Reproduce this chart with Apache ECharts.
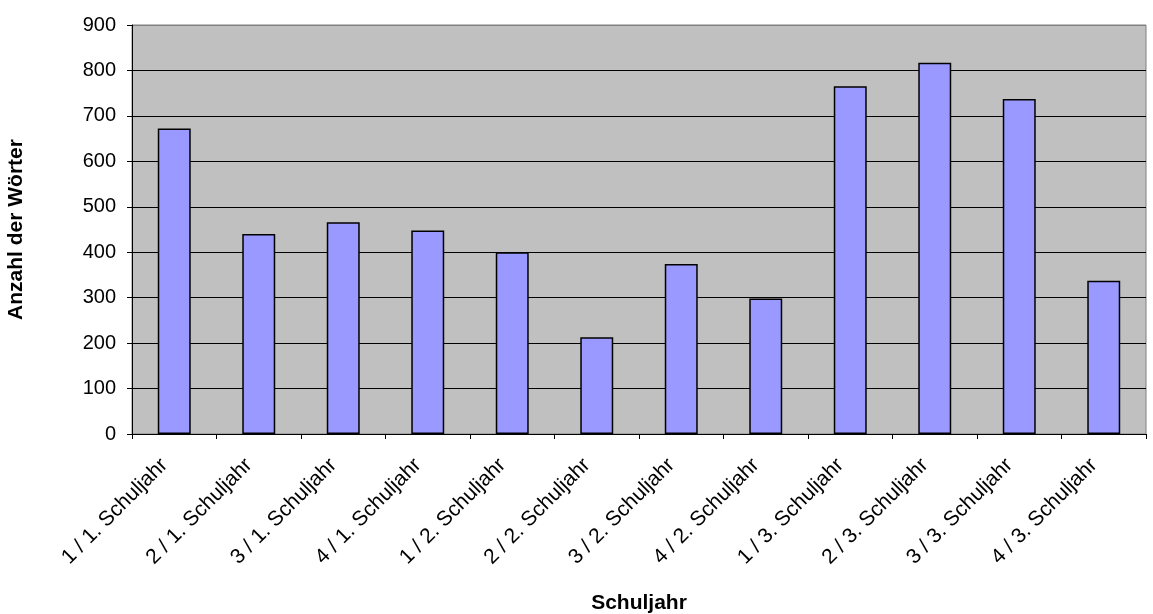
<!DOCTYPE html>
<html>
<head>
<meta charset="utf-8">
<script src="https://cdn.jsdelivr.net/npm/echarts@6/dist/echarts.min.js"></script>
<style>
html,body{margin:0;padding:0;background:#fff;}
#chart{width:1153px;height:614px;}
</style>
</head>
<body>
<div id="chart"></div>
<script>
// Kategorien und Werte
var categories = ['1 / 1. Schuljahr', '2 / 1. Schuljahr', '3 / 1. Schuljahr', '4 / 1. Schuljahr',
    '1 / 2. Schuljahr', '2 / 2. Schuljahr', '3 / 2. Schuljahr', '4 / 2. Schuljahr',
    '1 / 3. Schuljahr', '2 / 3. Schuljahr', '3 / 3. Schuljahr', '4 / 3. Schuljahr'];
var values = [672, 440, 466, 448, 400, 213, 374, 298, 765, 817, 737, 337];
var yTicks = [0, 100, 200, 300, 400, 500, 600, 700, 800, 900];

var myChart = echarts.init(document.getElementById('chart'));

// oberste Gitterlinie grau wie der Rahmen
var splitColors = yTicks.map(function (v, i) { return i === yTicks.length - 1 ? '#808080' : '#000'; });

var option = {
    backgroundColor: '#ffffff',
    textStyle: { fontFamily: 'Liberation Sans, Arial, sans-serif' },
    grid: {
        left: 132, right: 7, top: 25, bottom: 180,
        outerBoundsMode: 'none',
        containLabel: false,
        show: true,
        backgroundColor: '#c0c0c0',
        borderColor: '#808080',
        borderWidth: 1
    },
    xAxis: {
        type: 'category',
        data: categories,
        name: 'Schuljahr',
        nameLocation: 'middle',
        nameGap: 159,
        nameTextStyle: { fontSize: 21, fontWeight: 'bold', color: '#000' },
        axisLine: { lineStyle: { color: '#000', width: 1 } },
        axisTick: { show: true, length: 5, alignWithLabel: false, lineStyle: { color: '#000' } },
        axisLabel: { rotate: 45, fontSize: 21, color: '#000', margin: 18, interval: 0, padding: [0, 14, 0, 0] }
    },
    yAxis: {
        type: 'value',
        min: yTicks[0],
        max: yTicks[yTicks.length - 1],
        interval: 100,
        name: 'Anzahl der Wörter',
        nameLocation: 'middle',
        nameGap: 105,
        nameTextStyle: { fontSize: 21, fontWeight: 'bold', color: '#000' },
        axisLine: { show: true, lineStyle: { color: '#000', width: 1 } },
        axisTick: { show: true, length: 5, lineStyle: { color: '#000' } },
        axisLabel: { fontSize: 20, color: '#000', margin: 16 },
        splitLine: { show: true, lineStyle: { color: splitColors, width: 1 } }
    },
    series: [{
        type: 'bar',
        data: values,
        barWidth: '39%',
        itemStyle: { color: '#9999ff', borderColor: '#000', borderWidth: 1.5 },
        animation: false
    }],
    animation: false
};

myChart.setOption(option);
</script>
</body>
</html>
